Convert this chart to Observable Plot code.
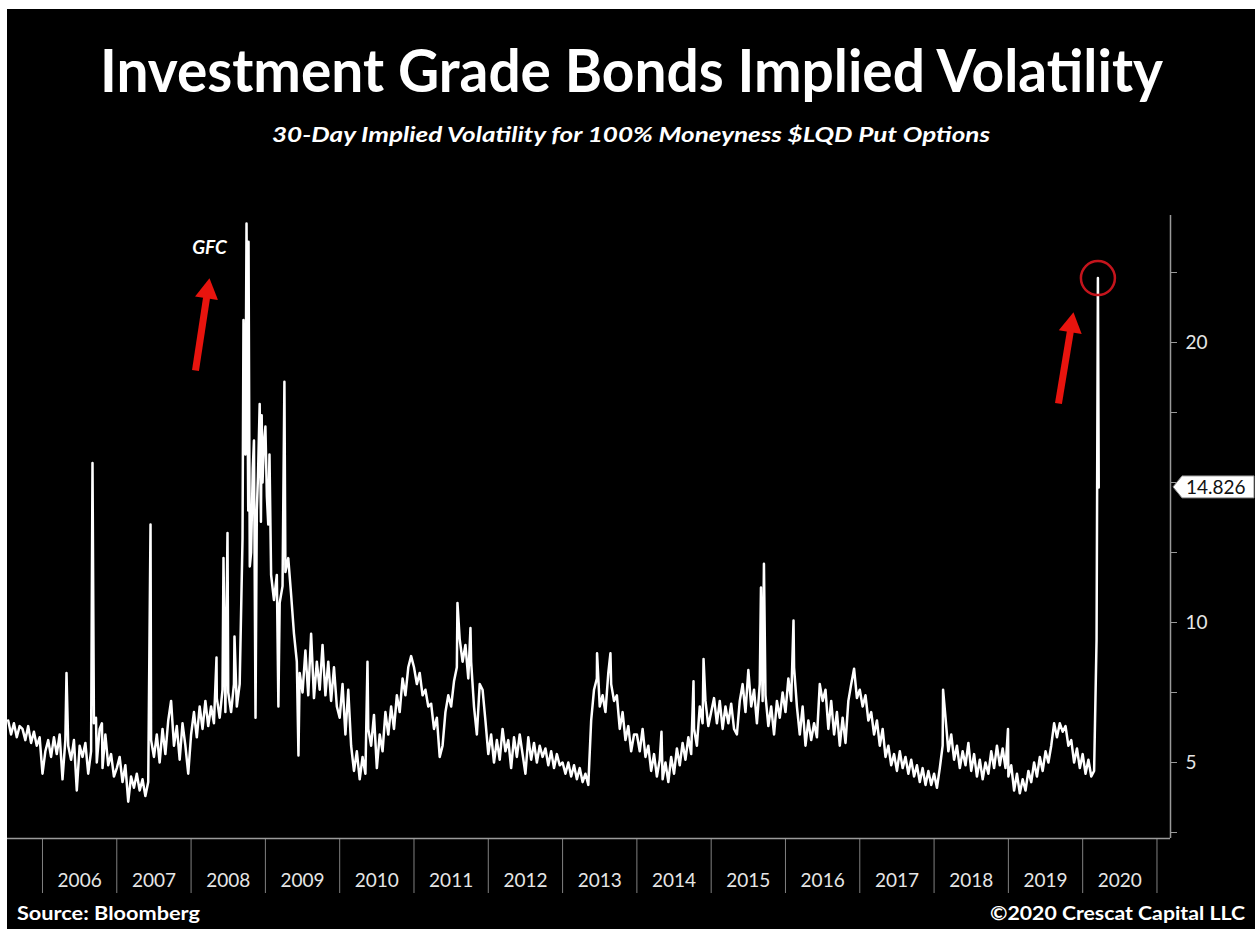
<!DOCTYPE html>
<html>
<head>
<meta charset="utf-8">
<script src="https://cdn.jsdelivr.net/npm/d3@7"></script>
<script src="https://cdn.jsdelivr.net/npm/@observablehq/plot@0.6"></script>
<style>
  html, body { margin: 0; padding: 0; background: #fff; width: 1255px; height: 929px; overflow: hidden; }
  #panel { position: absolute; left: 7px; top: 9px; width: 1248px; height: 920px; background: #000; overflow: hidden; }
  #panel svg { position: absolute; left: 0; top: 0; }
</style>
</head>
<body>
<div id="panel"></div>
<script>
// ---------- text ----------
const titleText = "Investment Grade Bonds Implied Volatility";
const subtitleText = "30-Day Implied Volatility for 100% Moneyness $LQD Put Options";
const sourceText = "Source: Bloomberg";
const creditText = "©2020 Crescat Capital LLC";

// ---------- axes ----------
const yearLabels = [2006, 2007, 2008, 2009, 2010, 2011, 2012, 2013, 2014, 2015, 2016, 2017, 2018, 2019, 2020];
const yearEdges = [2006, 2007, 2008, 2009, 2010, 2011, 2012, 2013, 2014, 2015, 2016, 2017, 2018, 2019, 2020, 2021];
const yTicks = [2.5, 5, 7.5, 10, 12.5, 15, 17.5, 20, 22.5];
const yTickLabels = [5, 10, 20];
const xDomain = [2005.529, 2021.182];
const yDomain = [2.286, 24.536];

// ---------- data: 30-day implied vol, sampled every two weeks (26 per year) ----------
const v2005 = [null, null, null, null, null, null, null, null, null, null, null, null, null, null,
  6.5, 6.0, 6.4, 5.9, 6.3, 6.2, 5.8, 6.3, 5.7, 6.1, 5.6, 5.9];
const v2006 = [4.6, 5.4, 5.8, 5.2, 5.9, 5.3, 6.0, 4.4, 5.8, 5.6, 5.1, 5.8, 4.0, 5.6, 5.2, 5.7, 4.6, 5.4, 6.4, 5.0, 6.2, 4.8, 6.0, 4.9, 5.3, 4.5];
const v2007 = [4.8, 5.2, 4.3, 4.9, 3.6, 4.5, 4.1, 4.6, 4.0, 4.4, 3.8, 4.3, 5.8, 5.2, 6.0, 5.0, 6.2, 5.3, 6.5, 7.2, 5.6, 6.3, 5.1, 6.4, 5.6, 4.6];
const v2008 = [6.0, 6.8, 5.9, 7.0, 6.2, 7.2, 6.3, 7.0, 6.4, 7.3, 6.6, 7.6, 6.8, 7.5, 6.8, 7.8, 7.0, 7.8, 13.0, 16.0, 14.0, 12.5, 16.5, 14.0, 17.8, 15.0];
const v2009 = [17.0, 13.5, 11.7, 10.8, 11.7, 10.7, 11.3, 11.8, 12.3, 11.0, 9.6, 8.6, 8.2, 7.5, 9.0, 7.4, 9.6, 7.3, 8.6, 7.6, 9.2, 7.4, 8.6, 7.2, 8.4, 7.0];
const v2010 = [6.6, 7.8, 6.0, 7.6, 5.6, 4.7, 5.4, 4.4, 5.2, 4.6, 6.2, 5.6, 6.7, 4.8, 6.0, 5.4, 6.8, 6.0, 7.0, 6.2, 7.4, 6.8, 8.0, 7.4, 8.4, 8.8];
const v2011 = [8.4, 7.8, 8.2, 7.4, 7.6, 7.0, 7.1, 6.2, 6.6, 5.2, 5.6, 6.8, 7.4, 7.0, 7.9, 8.4, 9.4, 8.6, 9.2, 8.0, 8.6, 7.0, 6.0, 7.8, 7.6, 6.5];
const v2012 = [5.3, 6.0, 5.0, 5.8, 5.1, 6.2, 5.4, 5.8, 4.8, 5.9, 5.2, 6.0, 5.3, 4.6, 5.9, 5.1, 5.7, 5.0, 5.6, 5.2, 5.5, 4.9, 5.4, 4.8, 5.3, 4.9];
const v2013 = [5.0, 4.6, 5.0, 4.5, 4.9, 4.4, 4.8, 4.3, 4.6, 4.2, 6.5, 7.6, 8.0, 7.0, 7.4, 6.8, 8.2, 7.8, 7.2, 7.4, 6.2, 6.8, 5.8, 6.3, 5.4, 6.0];
const v2014 = [6.0, 5.4, 6.2, 5.2, 5.6, 4.7, 5.3, 4.5, 5.1, 4.4, 5.0, 4.3, 5.2, 4.6, 5.5, 4.9, 5.7, 5.1, 5.9, 5.3, 6.2, 5.6, 7.0, 6.4, 7.2, 6.3];
const v2015 = [6.8, 7.3, 6.4, 7.2, 6.2, 7.0, 6.4, 7.1, 6.2, 6.0, 7.2, 7.8, 6.8, 8.3, 7.0, 7.6, 6.4, 7.8, 7.2, 7.4, 6.3, 7.0, 6.0, 7.2, 6.6, 7.5];
const v2016 = [6.8, 8.0, 7.2, 8.4, 7.0, 6.0, 7.0, 5.6, 6.5, 5.8, 6.4, 5.9, 7.8, 7.2, 7.6, 6.2, 7.2, 6.0, 6.8, 5.6, 6.6, 5.7, 7.2, 7.8, 8.35, 7.3];
const v2017 = [7.6, 7.0, 7.4, 6.5, 6.8, 6.0, 6.5, 5.6, 6.2, 5.2, 5.6, 4.9, 5.3, 4.7, 5.4, 4.8, 5.2, 4.6, 5.1, 4.5, 4.9, 4.3, 4.8, 4.2, 4.7, 4.2];
const v2018 = [4.6, 4.1, 4.8, 5.6, 6.6, 5.4, 6.0, 5.1, 5.6, 4.8, 5.4, 4.9, 5.7, 4.7, 5.3, 4.5, 5.1, 4.4, 5.0, 4.6, 5.4, 4.8, 5.6, 4.9, 5.5, 4.8];
const v2019 = [4.5, 4.9, 4.0, 4.6, 3.9, 4.4, 4.0, 4.7, 4.3, 5.0, 4.5, 5.2, 4.7, 5.4, 5.0, 5.6, 6.4, 5.9, 6.4, 6.1, 6.3, 5.6, 5.8, 5.0, 5.5, 4.8];
const v2020 = [5.3, 4.6, 5.1, 4.5, 4.7];

// single-day moves (fractional year, value)
const spikeDates = [2006.323, 2006.673, 2006.72, 2006.80, 2007.454, 2008.342, 2008.436, 2008.49, 2008.584,
  2008.705, 2008.746, 2008.773, 2008.79, 2008.83, 2008.867, 2008.90, 2008.94, 2008.95, 2008.98, 2009.02, 2009.055,
  2009.175, 2009.256, 2009.445, 2010.374, 2011.585, 2011.76, 2013.464, 2013.644, 2014.331, 2014.762, 2014.897,
  2015.67, 2015.71, 2016.108, 2018.121, 2018.995, 2020.187, 2020.205, 2020.216];
const spikeValues = [8.2, 15.7, 6.6, 6.4, 13.5, 8.75, 12.3, 13.2, 9.5,
  20.8, 24.25, 23.6, 12.0, 15.5, 6.6, 15.2, 13.6, 17.4, 16.4, 14.5, 16.0,
  7.0, 18.6, 5.25, 8.6, 10.7, 9.8, 8.9, 8.9, 6.1, 7.9, 8.7,
  11.25, 12.1, 10.07, 7.6, 6.2, 9.4, 22.3, 14.826];

// annotations
const noteLabels = ["GFC"];
const noteX = [2008.248];
const noteY = [23.15];
const arrowFromX = [2008.059, 2019.674];
const arrowFromY = [19.0, 17.82];
const arrowToX = [2008.248, 2019.876];
const arrowToY = [22.29, 21.07];
const arrowAngle = [8.5, 9.3];

// ---------- build ----------
const yearly = [[2005, v2005], [2006, v2006], [2007, v2007], [2008, v2008], [2009, v2009], [2010, v2010],
  [2011, v2011], [2012, v2012], [2013, v2013], [2014, v2014], [2015, v2015], [2016, v2016], [2017, v2017],
  [2018, v2018], [2019, v2019], [2020, v2020]];
const series = [];
for (const [yr, arr] of yearly) arr.forEach((v, i) => { if (v != null) series.push({t: yr + i / 26, v}); });
spikeDates.forEach((t, i) => series.push({t, v: spikeValues[i]}));
series.sort((a, b) => a.t - b.t);
const last = series[series.length - 1];
const peak2020 = d3.greatest(series.filter(d => d.t >= 2020), d => d.v);

const arrows = arrowFromX.map((x1, i) => ({x1, y1: arrowFromY[i], x2: arrowToX[i], y2: arrowToY[i], rot: arrowAngle[i]}));
const lerp = (a, b, f) => a + (b - a) * f;
const notes = noteLabels.map((label, i) => ({label, t: noteX[i], v: noteY[i]}));

const RED = "#e8140e";
const GRID = "#9a9a9a";

const W = 1248, H = 920;
const plot = Plot.plot({
  width: W, height: H,
  marginLeft: 0, marginRight: 85, marginTop: 206, marginBottom: 91,
  style: {background: "transparent", color: "#e6e6e6", fontFamily: "Lato, sans-serif", overflow: "visible"},
  x: {domain: xDomain},
  y: {domain: yDomain},
  marks: [
    Plot.axisX({ticks: yearEdges, tickSize: 55, tickFormat: () => "", stroke: "#808080", label: null}),
    Plot.axisX({ticks: yearLabels.map(y => y + 0.5), tickSize: 0, tickPadding: 35, tickFormat: d => String(Math.floor(d)),
      fontSize: 19, fill: "#e6e6e6", label: null}),
    Plot.ruleY([yDomain[0]], {stroke: GRID, strokeWidth: 1.5}),
    Plot.ruleX([xDomain[1]], {stroke: GRID, strokeWidth: 1.5}),
    Plot.axisY({anchor: "right", ticks: yTicks, tickSize: 6, tickPadding: 9,
      tickFormat: d => yTickLabels.includes(d) ? String(d) : "", fontSize: 19, stroke: GRID, fill: "#e6e6e6", label: null}),
    Plot.line(series, {x: "t", y: "v", stroke: "#fff", strokeWidth: 2.5, strokeLinejoin: "round"}),
    Plot.dot([peak2020], {x: "t", y: "v", r: 17, stroke: "#c4141c", strokeWidth: 2.5, fill: "none"}),
    Plot.link(arrows, {x1: "x1", y1: "y1", x2: d => lerp(d.x1, d.x2, 0.8), y2: d => lerp(d.y1, d.y2, 0.8),
      stroke: RED, strokeWidth: 7}),
    Plot.dot(arrows, {x: d => lerp(d.x1, d.x2, 0.857), y: d => lerp(d.y1, d.y2, 0.857), symbol: "triangle",
      r: 8.6, fill: RED, stroke: "none", rotate: "rot"}),
    Plot.text(notes, {x: "t", y: "v", text: "label", fontSize: 19, fontWeight: "bold", fontStyle: "italic",
      fill: "#fff", lineAnchor: "bottom", textAnchor: "middle"})
  ]
});
document.getElementById("panel").appendChild(plot);

// ---------- titles, footer and last-value tag ----------
const svg = d3.select(plot);
function addText(txt, x, y, size, width, italic) {
  const t = svg.append("text")
    .attr("x", x).attr("y", y)
    .attr("text-anchor", "start")
    .attr("fill", "#fff")
    .attr("font-family", "Lato, sans-serif")
    .attr("font-weight", "bold")
    .attr("font-style", italic ? "italic" : "normal")
    .attr("font-size", size)
    .text(txt);
  if (width) t.attr("textLength", width).attr("lengthAdjust", "spacingAndGlyphs");
  return t;
}
addText(titleText, 93, 83, 60, 1063, false);
addText(subtitleText, 265, 133, 21, 718, true);
addText(sourceText, 10, 911, 19, 183, false);
addText(creditText, 983, 911, 19, 255, false);

const xs = plot.scale("x").apply(xDomain[1]);
const ys = plot.scale("y").apply(last.v);
svg.append("path")
  .attr("d", `M${xs + 3},${ys} L${xs + 12},${ys - 11} L${W - 1},${ys - 11} L${W - 1},${ys + 11} L${xs + 12},${ys + 11} Z`)
  .attr("fill", "#fff").attr("stroke", "#888").attr("stroke-width", 1);
svg.append("text")
  .attr("x", xs + 16).attr("y", ys + 7)
  .attr("text-anchor", "start")
  .attr("fill", "#111")
  .attr("font-family", "Lato, sans-serif")
  .attr("font-size", 19)
  .text(d3.format(".3f")(last.v));
</script>
</body>
</html>
